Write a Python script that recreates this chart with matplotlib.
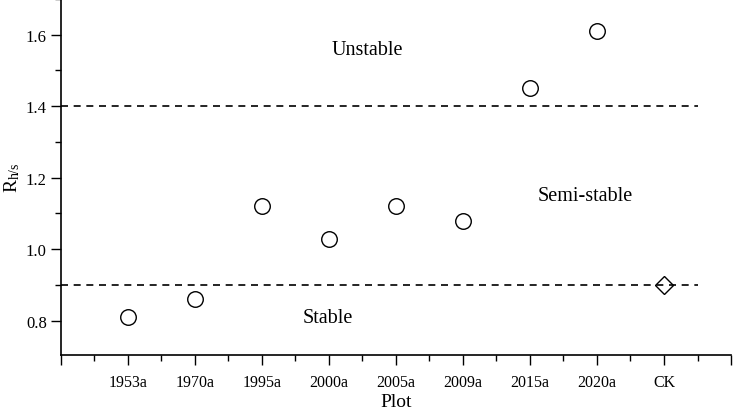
import matplotlib
matplotlib.use("Agg")
import matplotlib.pyplot as plt
from matplotlib.ticker import MultipleLocator, FixedLocator

plt.rcParams['font.family'] = ['Liberation Serif', 'DejaVu Serif']
plt.rcParams['mathtext.fontset'] = 'custom'
plt.rcParams['mathtext.rm'] = 'Liberation Serif'
plt.rcParams['mathtext.it'] = 'Liberation Serif:italic'

categories = ['1953a', '1970a', '1995a', '2000a', '2005a', '2009a', '2015a', '2020a', 'CK']
values = [0.81, 0.86, 1.12, 1.03, 1.12, 1.08, 1.45, 1.61, 0.90]
thresholds = [0.9, 1.4]
zones = [('Unstable', 4.57, 1.56), ('Semi-stable', 7.83, 1.149), ('Stable', 3.99, 0.808)]

fig = plt.figure(figsize=(7.33, 4.14), dpi=100)
ax = fig.add_axes([0.0828, 0.1408, 0.9145, 0.8592])

xs = list(range(1, len(categories) + 1))
ax.plot(xs[:-1], values[:-1], linestyle='none', marker='o', markersize=11.2,
        markerfacecolor='white', markeredgecolor='black', markeredgewidth=1.0, zorder=3)
ax.plot(xs[-1:], values[-1:], linestyle='none', marker='D', markersize=9.6,
        markerfacecolor='none', markeredgecolor='black', markeredgewidth=1.0, zorder=3)

for t in thresholds:
    ax.plot([0, 9.5], [t, t], color='black', linestyle=(0, (4.2, 3.4)), linewidth=1.2, zorder=2)

for label, x, y in zones:
    ax.text(x, y, label, fontsize=14.5, ha='center', va='center')

ax.set_xlim(0, 10)
ax.set_ylim(0.705, 1.70)
ax.xaxis.set_major_locator(FixedLocator(list(range(0, 11))))
ax.set_xticklabels([''] + categories + [''])
ax.xaxis.set_minor_locator(MultipleLocator(0.5))
ax.yaxis.set_major_locator(FixedLocator([0.8, 1.0, 1.2, 1.4, 1.6]))
ax.set_yticklabels(['0.8', '1.0', '1.2', '1.4', '1.6'])
ax.yaxis.set_minor_locator(FixedLocator([0.9, 1.1, 1.3, 1.5, 1.7]))

ax.tick_params(axis='both', which='major', direction='out', length=7, width=1.0, labelsize=12)
ax.tick_params(axis='both', which='minor', direction='out', length=4, width=1.0)
ax.tick_params(axis='x', which='major', pad=7, labelsize=11.5)
ax.tick_params(axis='y', which='major', pad=3)

for s in ['top', 'right']:
    ax.spines[s].set_visible(False)
for s in ['left', 'bottom']:
    ax.spines[s].set_linewidth(1.2)

ax.set_xlabel('Plot', fontsize=14)
ax.xaxis.set_label_coords(0.5, -0.108)
ax.set_ylabel(r'R$_{\mathrm{h/s}}$', fontsize=14)
ax.yaxis.set_label_coords(-0.057, 0.5)

fig.savefig('out.png', dpi=100)
